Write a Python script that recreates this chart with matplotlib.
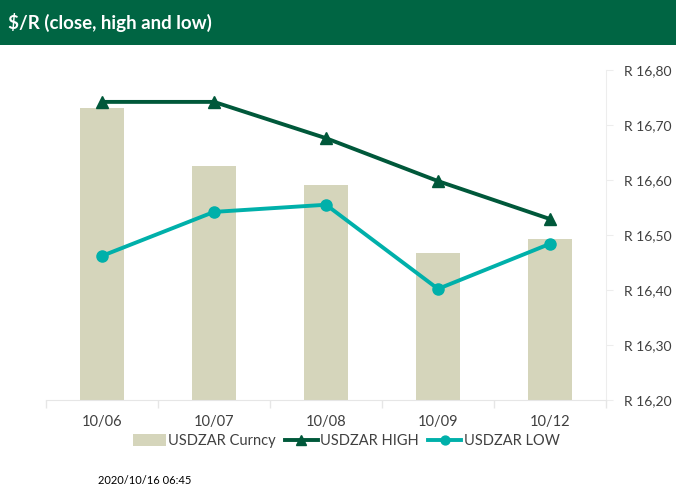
import matplotlib
matplotlib.use("Agg")
import matplotlib.pyplot as plt
from matplotlib.patches import Rectangle
from matplotlib.ticker import FixedLocator

plt.rcParams['font.family'] = ['Lato', 'DejaVu Sans']

dates = ["10/06", "10/07", "10/08", "10/09", "10/12"]
close = [16.731, 16.625, 16.591, 16.467, 16.493]
high = [16.742, 16.742, 16.676, 16.598, 16.529]
low = [16.462, 16.542, 16.555, 16.402, 16.484]
yticks = [16.20, 16.30, 16.40, 16.50, 16.60, 16.70, 16.80]
ytick_labels = ["R 16,20", "R 16,30", "R 16,40", "R 16,50", "R 16,60", "R 16,70", "R 16,80"]

W, H = 676, 488
fig = plt.figure(figsize=(W / 100, H / 100), dpi=100)

# title band
fig.patches.append(Rectangle((0, 1 - 45 / H), 1, 45 / H, transform=fig.transFigure,
                             facecolor="#006543", edgecolor="none", zorder=0))
fig.text(8 / W, 1 - 22 / H, "$/R (close, high and low)", color="white", fontsize=13.5,
         fontweight="bold", va="center", ha="left")

ax = fig.add_axes([46 / W, 1 - 400 / H, 560 / W, 330 / H])
x = list(range(len(dates)))
b = ax.bar(x, close, width=0.4, color="#D5D5BB", label="USDZAR Curncy", zorder=1)
lh, = ax.plot(x, high, color="#00583A", linewidth=2.8, marker="^", markersize=9,
              label="USDZAR HIGH", zorder=3)
ll, = ax.plot(x, low, color="#00B0AA", linewidth=2.8, marker="o", markersize=8,
              label="USDZAR LOW", zorder=3)

ax.set_xlim(-0.5, 4.5)
ax.set_ylim(16.20, 16.80)
ax.set_xticks(x)
ax.set_xticklabels(dates, fontsize=10.5, color="#404040")
ax.xaxis.set_minor_locator(FixedLocator([-0.5, 0.5, 1.5, 2.5, 3.5, 4.5]))
ax.tick_params(axis="x", which="major", length=0, pad=11)
ax.tick_params(axis="x", which="minor", length=6, color="#E6E6E6", width=1)

ax.yaxis.tick_right()
ax.set_yticks(yticks)
ax.set_yticklabels(ytick_labels, fontsize=10, color="#404040")
ax.tick_params(axis="y", length=5, color="#EDEDED", pad=8)

for s in ["top", "left"]:
    ax.spines[s].set_visible(False)
ax.spines["bottom"].set_color("#E6E6E6")
ax.spines["right"].set_color("#EDEDED")
ax.set_facecolor("none")

leg = fig.legend([b, lh, ll], ["USDZAR Curncy", "USDZAR HIGH", "USDZAR LOW"],
                 loc="center", bbox_to_anchor=(346 / W, 1 - 441 / H), ncol=3, frameon=False,
                 fontsize=10.5, handlelength=2.3, handleheight=0.8, columnspacing=0.6,
                 handletextpad=0.15, borderpad=0, markerscale=0.8)
for t in leg.get_texts():
    t.set_color("#404040")

fig.text(98 / W, 1 - 480 / H, "2020/10/16 06:45", fontsize=8, color="#000000",
         va="center", ha="left")

fig.savefig("out.png", dpi=100)
